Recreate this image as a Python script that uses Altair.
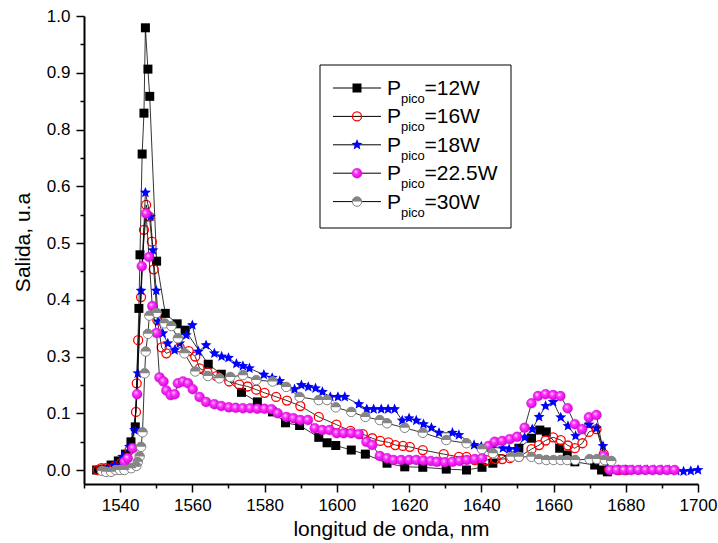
import altair as alt
import pandas as pd

# ---------------- data ----------------
x12 = [1533.5, 1535.5, 1537.5, 1539.5, 1541.5, 1543.0, 1544.2, 1545.2, 1545.5, 1546.1, 1546.6, 1547.0,
       1547.7, 1548.2, 1550.1, 1552.5, 1555.8, 1558.0, 1564.4, 1568.0, 1573.6, 1578.0, 1582.2, 1585.8,
       1589.7, 1595.0, 1597.3, 1599.7, 1604.0, 1607.9, 1613.9, 1618.8, 1623.8, 1630.3, 1635.9, 1640.2,
       1643.2, 1650.4, 1653.9, 1656.2, 1658.0, 1661.7, 1663.8, 1665.9, 1671.4, 1673.3, 1674.9]
y12 = [0.000, 0.002, 0.011, 0.020, 0.035, 0.062, 0.095, 0.356, 0.474, 0.696, 0.786, 0.974,
       0.883, 0.823, 0.460, 0.345, 0.322, 0.308, 0.233, 0.211, 0.171, 0.150, 0.128, 0.104,
       0.098, 0.072, 0.060, 0.054, 0.044, 0.035, 0.015, 0.007, 0.006, 0.002, 0.000, 0.006,
       0.015, 0.048, 0.070, 0.088, 0.084, 0.048, 0.033, 0.018, 0.011, 0.000, -0.004]

x16 = [1533.8, 1534.8, 1536.0, 1538.5, 1540.3, 1541.2, 1542.6, 1544.4, 1544.6, 1545.0, 1545.8, 1546.6,
       1547.2, 1548.1, 1548.8, 1549.3, 1550.3, 1551.5, 1552.8, 1556.5, 1559.0, 1560.8, 1562.0, 1564.2,
       1566.7, 1570.2, 1573.0, 1575.3, 1577.7, 1580.0, 1583.2, 1586.2, 1589.9, 1595.0, 1599.9, 1603.8,
       1607.2, 1609.8, 1612.0, 1614.3, 1616.2, 1618.3, 1620.2, 1623.8, 1629.6, 1633.8, 1635.9, 1638.2,
       1641.4, 1644.0, 1645.8, 1647.9, 1650.4, 1653.9, 1656.0, 1657.8, 1659.9, 1662.0, 1664.0, 1665.9,
       1668.0, 1669.8, 1671.9, 1673.9, 1675.4, 1678.0, 1680.0]
y16 = [0.000, 0.004, 0.004, 0.008, 0.015, 0.026, 0.044, 0.128, 0.191, 0.286, 0.381, 0.529,
       0.584, 0.558, 0.503, 0.442, 0.330, 0.270, 0.257, 0.270, 0.262, 0.250, 0.224, 0.215,
       0.207, 0.195, 0.188, 0.184, 0.177, 0.170, 0.161, 0.153, 0.141, 0.117, 0.100, 0.086,
       0.079, 0.070, 0.064, 0.061, 0.055, 0.053, 0.051, 0.044, 0.035, 0.029, 0.029, 0.022,
       0.022, 0.024, 0.024, 0.026, 0.029, 0.046, 0.055, 0.065, 0.072, 0.066, 0.054, 0.048,
       0.059, 0.084, 0.090, 0.035, 0.002, 0.000, 0.000]

x18 = [1536.5, 1538.5, 1540.7, 1542.6, 1544.0, 1544.9, 1545.8, 1547.0, 1548.4, 1549.1, 1550.0, 1550.6,
       1551.8, 1553.2, 1555.1, 1556.5, 1558.3, 1560.0, 1561.7, 1563.8, 1566.1, 1568.1, 1570.0, 1572.2,
       1574.0, 1575.8, 1579.8, 1582.1, 1584.2, 1588.3, 1590.2, 1592.1, 1594.1, 1596.0, 1598.2, 1600.3,
       1602.2, 1606.1, 1608.3, 1610.2, 1612.3, 1614.2, 1616.0, 1618.1, 1620.0, 1622.0, 1624.0, 1626.2,
       1628.3, 1632.0, 1633.8, 1638.0, 1640.0, 1643.0, 1646.0, 1647.7, 1649.7, 1652.0, 1654.1, 1656.0,
       1657.8, 1659.9, 1662.0, 1664.0, 1666.1, 1668.0, 1669.8, 1671.9, 1673.7, 1675.5, 1678.0, 1680.0,
       1682.0, 1684.0, 1686.0, 1688.0, 1690.0, 1692.0, 1694.0, 1696.0, 1698.0, 1700.0]
y18 = [0.002, 0.010, 0.029, 0.051, 0.088, 0.213, 0.395, 0.611, 0.558, 0.484, 0.395, 0.327,
       0.301, 0.279, 0.264, 0.279, 0.297, 0.319, 0.261, 0.275, 0.257, 0.250, 0.247, 0.234,
       0.229, 0.224, 0.210, 0.203, 0.196, 0.178, 0.187, 0.183, 0.180, 0.172, 0.161, 0.161,
       0.161, 0.145, 0.134, 0.134, 0.134, 0.134, 0.134, 0.109, 0.114, 0.109, 0.101, 0.093,
       0.082, 0.082, 0.077, 0.055, 0.052, 0.050, 0.048, 0.046, 0.046, 0.072, 0.090, 0.117,
       0.141, 0.150, 0.116, 0.097, 0.075, 0.090, 0.100, 0.092, 0.053, 0.005, 0.000, 0.000,
       0.000, 0.000, 0.000, 0.000, 0.000, 0.000, -0.002, -0.003, -0.002, 0.000]

x225 = [1541.2, 1542.1, 1543.5, 1544.7, 1546.0, 1547.2, 1548.0, 1548.9, 1550.1, 1550.9, 1552.0, 1552.8,
        1554.0, 1555.1, 1556.0, 1557.4, 1558.8, 1560.1, 1562.0, 1563.8, 1566.1, 1568.0, 1570.1, 1572.0,
        1574.0, 1576.0, 1578.0, 1580.0, 1581.9, 1583.6, 1586.0, 1588.0, 1589.9, 1592.0, 1593.9, 1596.0,
        1598.0, 1600.0, 1601.9, 1604.0, 1606.1, 1608.2, 1609.8, 1611.9, 1613.9, 1615.7, 1617.8, 1620.0,
        1622.0, 1624.0, 1626.0, 1627.7, 1629.9, 1632.0, 1634.0, 1636.0, 1638.2, 1640.2, 1642.0, 1643.7,
        1645.8, 1647.9, 1649.9, 1652.0, 1653.9, 1655.7, 1657.8, 1659.9, 1661.9, 1663.9, 1665.9, 1667.9,
        1669.8, 1671.9, 1673.9, 1675.6, 1677.5, 1679.5, 1681.5, 1683.5, 1685.5, 1687.5, 1689.5, 1691.5,
        1693.5]
y225 = [0.018, 0.026, 0.048, 0.167, 0.449, 0.565, 0.469, 0.361, 0.302, 0.204, 0.195, 0.175,
        0.165, 0.167, 0.191, 0.195, 0.191, 0.178, 0.161, 0.150, 0.145, 0.141, 0.138, 0.137,
        0.136, 0.136, 0.135, 0.135, 0.134, 0.125, 0.117, 0.114, 0.110, 0.110, 0.092, 0.088,
        0.088, 0.081, 0.081, 0.081, 0.079, 0.062, 0.055, 0.031, 0.026, 0.022, 0.022, 0.022,
        0.022, 0.021, 0.020, 0.018, 0.017, 0.018, 0.020, 0.022, 0.024, 0.026, 0.053, 0.062,
        0.064, 0.068, 0.073, 0.093, 0.147, 0.163, 0.167, 0.165, 0.163, 0.136, 0.101, 0.090,
        0.116, 0.121, 0.031, 0.000, 0.000, 0.000, 0.000, 0.000, 0.000, 0.000, 0.000, 0.000,
        0.000]

x30 = [1535.0, 1536.1, 1537.5, 1538.8, 1540.0, 1541.2, 1543.1, 1544.5, 1544.9, 1545.4, 1545.8, 1546.2,
       1546.8, 1547.1, 1547.7, 1548.1, 1550.1, 1552.3, 1554.2, 1556.0, 1557.8, 1560.8, 1564.3, 1567.5,
       1570.5, 1574.0, 1577.7, 1582.2, 1586.0, 1589.7, 1595.0, 1597.3, 1599.7, 1604.0, 1607.9, 1611.9,
       1613.9, 1618.8, 1623.8, 1630.3, 1635.9, 1640.2, 1643.2, 1648.3, 1650.4, 1653.9, 1656.0, 1658.0,
       1660.0, 1662.0, 1663.8, 1666.0, 1670.0, 1672.0, 1674.2, 1676.0]
y30 = [-0.002, -0.004, -0.004, 0.000, 0.000, 0.000, 0.004, 0.009, 0.018, 0.030, 0.051, 0.083,
       0.213, 0.261, 0.300, 0.340, 0.346, 0.323, 0.317, 0.290, 0.257, 0.217, 0.207, 0.202,
       0.205, 0.209, 0.198, 0.195, 0.183, 0.161, 0.154, 0.154, 0.138, 0.128, 0.117, 0.110,
       0.103, 0.093, 0.082, 0.066, 0.059, 0.046, 0.037, 0.029, 0.029, 0.029, 0.024, 0.022,
       0.022, 0.022, 0.022, 0.022, 0.024, 0.024, 0.022, 0.020]

series_names = ["12W", "16W", "18W", "22.5W", "30W"]
legend_labels = ["=12W", "=16W", "=18W", "=22.5W", "=30W"]
x_ticks = list(range(1530, 1701, 10))
y_ticks = [i * 0.0625 for i in range(17)]

# ---------------- build tables ----------------
rows = []
for name, xs, ys in zip(series_names, [x12, x16, x18, x225, x30], [y12, y16, y18, y225, y30]):
    for a, b in zip(xs, ys):
        rows.append({"serie": name, "x": a, "y": b})
df = pd.DataFrame(rows)
leg_df = pd.DataFrame({"row": list(range(5)), "serie": series_names, "label": legend_labels})
one = pd.DataFrame({"k": [0]})

FONT = "Liberation Sans"
STAR = ("M0,-1 L0.265,-0.364 L0.951,-0.309 L0.428,0.139 L0.588,0.809 L0,0.45 "
        "L-0.588,0.809 L-0.428,0.139 L-0.951,-0.309 L-0.265,-0.364 Z")
HALF = "M-1,0 A1,1 0 0,1 1,0 Z"
SPHERE = alt.RadialGradient(
    gradient="radial",
    stops=[alt.GradientStop(offset=0, color="#ffe6ff"),
           alt.GradientStop(offset=0.35, color="#ff33ff"),
           alt.GradientStop(offset=1, color="#d000d0")],
    x1=0.38, y1=0.35, r1=0, x2=0.45, y2=0.45, r2=0.6)

xscale = alt.Scale(domain=[1530, 1700], nice=False, zero=False)
yscale = alt.Scale(domain=[-0.0308, 1.0], nice=False, zero=False)

xaxis = alt.Axis(values=x_ticks, grid=False,
                 labelExpr="datum.value % 20 == 0 && datum.value >= 1540 ? format(datum.value, 'd') : ''",
                 tickSize={"condition": {"test": "datum.value % 20 == 0", "value": 8}, "value": 4},
                 labelOverlap=False, labelFlush=False, labelPadding=5,
                 titleY=51, titleBaseline="alphabetic")
yaxis = alt.Axis(values=y_ticks, grid=False,
                 labelExpr="abs(datum.value*8 - round(datum.value*8)) < 0.001 ? format(datum.value, '.1f') : ''",
                 tickSize={"condition": {"test": "abs(datum.value*8 - round(datum.value*8)) < 0.001", "value": 8}, "value": 4},
                 labelOverlap=False, labelFlush=False, labelPadding=6,
                 titleX=-61, titleY=226, titleBaseline="middle", titleAlign="center", titleAngle=270)

base = alt.Chart(df).encode(
    x=alt.X("x:Q", scale=xscale, axis=xaxis, title="longitud de onda, nm"),
    y=alt.Y("y:Q", scale=yscale, axis=yaxis, title="Salida, u.a"),
)


def line(name):
    return base.transform_filter(alt.datum.serie == name).mark_line(color="black", strokeWidth=0.8)


def pts(name, **kw):
    return base.transform_filter(alt.datum.serie == name).mark_point(opacity=1, **kw)


marker_styles = {
    "12W": [dict(shape="square", filled=True, color="black", size=81)],
    "16W": [dict(shape="circle", filled=False, color="red", strokeWidth=1.3, size=81)],
    "18W": [dict(shape=STAR, filled=True, color="blue", size=130)],
    "22.5W": [dict(shape="circle", filled=True, fill=SPHERE, size=100, stroke="#d000d0", strokeWidth=0.3)],
    "30W": [dict(shape="circle", filled=False, fill="white", stroke="#808080", strokeWidth=1, size=90),
            dict(shape=HALF, filled=True, color="#858585", size=90)],
}

layers = []
for name in series_names:
    layers.append(line(name))
    for st in marker_styles[name]:
        layers.append(pts(name, **st))

# ---------------- legend (drawn in pixels) ----------------
box = alt.Chart(one).mark_rect(fill="white", stroke="black", strokeWidth=1).encode(
    x=alt.value(236), x2=alt.value(427), y=alt.value(49), y2=alt.value(212))
layers.append(box)

leg = alt.Chart(leg_df).transform_calculate(
    yb="79 + 28.4*datum.row", ys="72 + 28.4*datum.row", yp="87 + 28.4*datum.row")
ys_enc = alt.Y("ys:Q", scale=None, axis=None)
layers.append(leg.mark_rule(color="black", strokeWidth=1).encode(
    x=alt.value(249), x2=alt.value(297), y=ys_enc))
for name in series_names:
    for st in marker_styles[name]:
        layers.append(leg.transform_filter(alt.datum.serie == name).mark_point(opacity=1, **st).encode(
            x=alt.value(273), y=ys_enc))
layers.append(leg.mark_text(text="P", align="left", baseline="alphabetic", font=FONT, fontSize=21,
                            color="black").encode(x=alt.value(303), y=alt.Y("yb:Q", scale=None, axis=None)))
layers.append(leg.mark_text(text="pico", align="left", baseline="alphabetic", font=FONT, fontSize=13,
                            color="black").encode(x=alt.value(317), y=alt.Y("yp:Q", scale=None, axis=None)))
layers.append(leg.mark_text(align="left", baseline="alphabetic", font=FONT, fontSize=21,
                            color="black").encode(x=alt.value(340.5), y=alt.Y("yb:Q", scale=None, axis=None),
                                                  text="label:N"))

chart = alt.layer(*layers).properties(
    width=614, height=468,
    autosize=alt.AutoSizeParams(type="none"),
    padding={"left": 84, "top": 16, "right": 20, "bottom": 59},
).configure_view(stroke=None).configure_axis(
    domainColor="black", domainWidth=2, tickColor="black", tickWidth=1.5,
    labelFont=FONT, labelFontSize=17, labelColor="black",
    titleFont=FONT, titleFontSize=21, titleFontWeight="normal", titleColor="black",
)

chart.save("out.html", embed_options={"renderer": "svg", "actions": False})
